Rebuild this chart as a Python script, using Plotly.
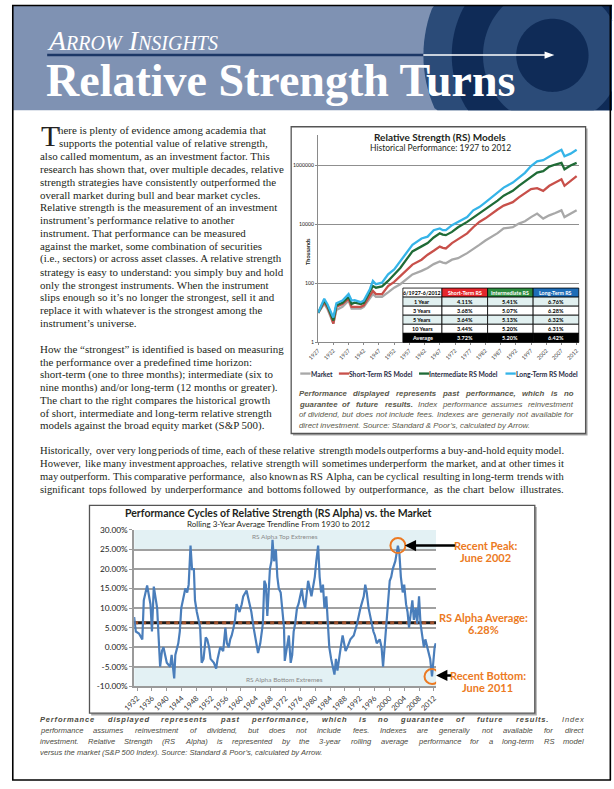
import math
import plotly.graph_objects as go

W, H = 614, 789
def X(p): return p / W
def Y(p): return 1 - p / H

# ---------------- Chart 1 data ----------------
rs_model_years = [1927, 1929, 1930, 1931, 1932, 1933, 1935, 1937, 1938, 1939,
                  1941, 1942, 1944, 1945, 1946, 1948, 1950, 1952, 1954, 1956,
                  1958, 1961, 1963, 1965, 1967, 1968, 1969, 1971, 1973, 1976,
                  1978, 1980, 1982, 1984, 1986, 1988, 1991, 1993, 1995, 1997,
                  1999, 2001, 2003, 2005, 2007, 2008, 2010, 2012]
market = [10, 20, 14, 8, 4.3, 12.6, 16, 26, 14, 14,
          14, 16, 33, 43, 35, 35, 49, 71, 93, 141,
          200, 263, 330, 447, 550, 500, 480, 630, 710, 1050,
          1410, 2000, 2820, 3800, 5000, 7240, 7940, 10500, 12600, 17400,
          23000, 15500, 20000, 24000, 29500, 17400, 22400, 29500]
short_term = [10, 23, 16, 9, 4.3, 16, 20, 30, 16, 16,
              16, 18, 40, 55, 43, 43, 81, 112, 174, 280,
              430, 630, 930, 1260, 1740, 1580, 1510, 2290, 3160, 4900,
              7900, 12000, 15800, 23000, 31600, 42700, 56000, 81000, 112000, 155000,
              166000, 135000, 200000, 251000, 331000, 200000, 295000, 427000]
intermediate = [10, 26, 18, 10, 5.5, 18, 22, 35, 20, 22,
                20, 22, 49, 81, 71, 79, 120, 200, 330, 630,
                1200, 1780, 2300, 3550, 4900, 4470, 4270, 5500, 7900, 12000,
                16600, 23000, 31600, 42700, 63000, 93000, 135000, 200000, 282000, 380000,
                562000, 630000, 890000, 1050000, 1200000, 724000, 980000, 1200000]
long_term = [10, 30, 20, 12, 7, 21, 26, 43, 26, 27,
             23, 26, 63, 120, 93, 105, 200, 295, 550, 1050,
             2000, 3300, 3800, 6300, 7200, 6300, 6300, 9300, 12000, 17400,
             29500, 38000, 55000, 81000, 120000, 174000, 257000, 380000, 550000, 930000,
             1350000, 1480000, 2000000, 2570000, 3300000, 2000000, 2450000, 3300000]
chart1_ticks = list(range(1927, 2013, 5))
chart1_yticks = [1, 100, 10000, 1000000]

table_header = ["6/1927-6/2012", "Short-Term RS", "Intermediate RS", "Long-Term RS"]
table_periods = ["1 Year", "3 Years", "5 Years", "10 Years", "Average"]
table_short = ["4.11%", "3.68%", "3.64%", "3.44%", "3.72%"]
table_inter = ["5.41%", "5.07%", "5.13%", "5.20%", "5.20%"]
table_long = ["6.76%", "6.28%", "6.32%", "6.31%", "6.42%"]

# ---------------- Chart 2 data ----------------
rs_years = [1931.2, 1931.65, 1932.5, 1933.4, 1933.8, 1934.7, 1935.6, 1936.0, 1936.5, 1937.4,
            1938.2, 1938.7, 1939.1, 1940.0, 1940.9, 1941.3, 1942.0, 1942.3, 1943.1, 1943.5,
            1943.9, 1944.6, 1945.0, 1945.5, 1945.9, 1946.4, 1946.8, 1947.3, 1947.6, 1948.1,
            1948.5, 1949.0, 1949.4, 1949.9, 1950.5, 1950.9, 1951.4, 1951.8, 1952.7, 1953.3,
            1953.7, 1954.4, 1955.2, 1955.8, 1956.2, 1956.7, 1957.1, 1957.5, 1958.0, 1958.4,
            1958.8, 1959.6, 1960.2, 1960.6, 1961.5, 1961.9, 1962.8, 1963.4, 1963.9, 1964.6,
            1965.2, 1965.9, 1966.3, 1966.7, 1967.1, 1967.4, 1967.8, 1968.2, 1968.5, 1968.9,
            1969.4, 1969.8, 1970.2, 1970.7, 1971.1, 1971.6, 1971.8, 1972.5, 1972.9, 1973.4,
            1973.8, 1974.2, 1974.6, 1975.1, 1975.5, 1976.4, 1976.8, 1977.3, 1978.1, 1979.0,
            1979.9, 1980.3, 1980.8, 1981.2, 1981.6, 1982.1, 1982.5, 1983.0, 1983.4, 1983.8,
            1984.3, 1984.7, 1985.2, 1985.6, 1986.0, 1986.9, 1987.4, 1987.8, 1988.2, 1988.7,
            1989.5, 1990.4, 1991.3, 1992.2, 1993.1, 1993.5, 1993.9, 1994.4, 1994.8, 1995.2,
            1995.7, 1996.1, 1996.6, 1997.4, 1997.9, 1998.3, 1998.8, 1999.2, 1999.6, 2000.1,
            2000.5, 2000.9, 2001.6, 2002.3, 2002.7, 2003.1, 2003.6, 2004.0, 2004.5, 2004.9,
            2005.3, 2005.8, 2006.2, 2006.6, 2007.1, 2007.5, 2008.0, 2008.4, 2008.8, 2009.3,
            2009.7, 2010.2, 2010.6, 2011.0, 2011.5, 2011.9, 2012.2, 2012.5]
rs_alpha = [7.7, 4, 3.5, 2, 12, 15.8, 11, 4, 15.5, 10,
            -5, -1, 0, -4, -5, -2, -8, -2, 1, 4,
            10, 13, 15, 14, 16, 26, 20, 20, 12, 9,
            7, 5, -4, -3, 2.5, 2, 0, -3, -4, -5.5,
            -3, 0, -1, 5, 1, 0, 2, 3, 5, 7,
            11, 9, 11, 13, 14.5, 13, 9, 5, 2, -1.5,
            1, 6, 17, 16, 8, 14, 20, 22, 27.5, 22,
            25, 18, 15, 14, 10, 5, -3.5, 0, 3, -4,
            -2, 4, 6, 10, 11, 15, 12, 10, 17, 13,
            18, 22, 26, 18, 14, 16, 10, 13, 6, 0,
            -3, -5, -7, -3, -6, 0, 3, 1, -1, 0,
            2, 3, 6, 10, 13, 16, 14, 10, 8, 6,
            4, 3, 1, 2, 0, -5, 1, 5, 12, 17,
            18, 20, 22, 26, 24, 18, 14, 16, 11, 9,
            5, 10, 12, 7, 10, 6, 13, 6, 3, 0,
            2, 0, -1, -3, -7.5, -3, 0, 1]
rs_average = 6.28
chart2_ticks = list(range(1932, 2013, 4))
chart2_yticks = [-10, -5, 0, 5, 10, 15, 20, 25, 30]
recent_peak = (2002.3, 26)
recent_bottom = (2011.5, -7.5)

SERIF = "Liberation Serif"
SANS = "Lato"
CAPF = "Liberation Sans"
TXT = "#231f20"
ORANGE = "#ec7a23"

# ---------- font metrics (Times / Arial compatible) ----------
TIMES = {' ': 250, ',': 250, '.': 250, ':': 278, ';': 278, '(': 333, ')': 333, '-': 333, '/': 278,
         '&': 778, '’': 333, '“': 444, '”': 444, "'": 180}
TIMES.update({c: 500 for c in "0123456789"})
TIMES.update(dict(zip("ABCDEFGHIJKLMNOPQRSTUVWXYZ",
                      [722, 667, 667, 722, 611, 556, 722, 722, 333, 389, 722, 611, 889, 722, 722, 556, 722,
                       667, 556, 611, 722, 722, 944, 722, 722, 611])))
TIMES.update(dict(zip("abcdefghijklmnopqrstuvwxyz",
                      [444, 500, 444, 500, 444, 333, 500, 500, 278, 278, 500, 278, 778, 500, 500, 500, 500,
                       333, 389, 278, 500, 500, 722, 500, 500, 444])))
ARIAL = {' ': 278, ',': 278, '.': 278, ':': 278, ';': 278, '(': 333, ')': 333, '-': 333, '/': 278,
         '&': 667, '’': 222, "'": 191}
ARIAL.update({c: 556 for c in "0123456789"})
ARIAL.update(dict(zip("ABCDEFGHIJKLMNOPQRSTUVWXYZ",
                      [667, 667, 722, 722, 667, 611, 778, 722, 278, 500, 667, 556, 833, 722, 778, 667, 778,
                       722, 667, 611, 722, 667, 944, 667, 667, 611])))
ARIAL.update(dict(zip("abcdefghijklmnopqrstuvwxyz",
                      [556, 556, 500, 556, 556, 278, 556, 556, 222, 222, 500, 222, 833, 556, 556, 556, 556,
                       333, 500, 278, 556, 500, 722, 500, 500, 500])))
ARIALB = dict(ARIAL)
ARIALB.update({':': 333, ';': 333, '&': 722, '’': 278})
ARIALB.update(dict(zip("abcdefghijklmnopqrstuvwxyz",
                       [556, 611, 556, 611, 556, 333, 611, 611, 278, 278, 556, 278, 889, 611, 611, 611, 611,
                        389, 556, 333, 611, 556, 778, 556, 556, 500])))
ARIALB.update({'A': 722, 'B': 722, 'J': 556, 'K': 722, 'L': 611})

def tw(s, table, size):
    # glyph advances are rounded to whole pixels by the renderer
    return sum(math.floor(table.get(c, 500) * size / 1000.0 + 0.5) for c in s)

def fit_size(s, table, target):
    best, err = 8, 1e9
    sz = 5.0
    while sz < 14:
        e = abs(tw(s, table, sz) - target)
        if e < err:
            best, err = sz, e
        sz += 0.05
    return round(best, 2)

fig = go.Figure()

# ---------- chart 1 traces ----------
c1_colors = ["#a8a8a8", "#c8504a", "#1f6b36", "#35b4e8"]
for vals, col in zip([market, short_term, intermediate, long_term], c1_colors):
    fig.add_trace(go.Scatter(x=rs_model_years, y=vals, mode="lines",
                             line=dict(color=col, width=2.3), xaxis="x", yaxis="y",
                             hoverinfo="skip"))

# ---------- chart 2 traces ----------
x2_range = [1931.2, 2012.6]
fig.add_trace(go.Scatter(x=x2_range, y=[rs_average, rs_average], mode="lines",
                         line=dict(color="#1a1a1a", width=3), xaxis="x2", yaxis="y2"))
fig.add_trace(go.Scatter(x=x2_range, y=[rs_average, rs_average], mode="lines",
                         line=dict(color="#a0522d", width=3, dash="4px,4px"), xaxis="x2", yaxis="y2"))
fig.add_trace(go.Scatter(x=rs_years, y=rs_alpha, mode="lines",
                         line=dict(color="#4a7ebb", width=2.2), xaxis="x2", yaxis="y2"))

shapes = []
annotations = []

def rect(x0, y0, x1, y1, fill=None, line=None, lw=0, layer="below"):
    shapes.append(dict(type="rect", xref="paper", yref="paper",
                       x0=X(x0), x1=X(x1), y0=Y(y1), y1=Y(y0),
                       fillcolor=fill or "rgba(0,0,0,0)",
                       line=dict(color=line or "rgba(0,0,0,0)", width=lw), layer=layer))

def hline(x0, x1, y, color, w, layer="above"):
    shapes.append(dict(type="line", xref="paper", yref="paper", x0=X(x0), x1=X(x1),
                       y0=Y(y), y1=Y(y), line=dict(color=color, width=w), layer=layer))

def text(x, y, s, size, color=TXT, family=SERIF, xanchor="left", yanchor="middle", angle=0):
    annotations.append(dict(xref="paper", yref="paper", x=X(x), y=Y(y), text=s,
                            showarrow=False, xanchor=xanchor, yanchor=yanchor,
                            textangle=angle, borderpad=0, borderwidth=0,
                            font=dict(family=family, size=size, color=color)))

def justify(segments, x0, x1, y, size, family, color, table, bold_table=None, italic=False,
            ls=0.0, fudge=1.0):
    """Place the words of a justified line so that it spans x0..x1."""
    words = [(w, b) for s, b in segments for w in s.split()]
    widths = [(tw(w, bold_table if b else table, size) + ls * len(w)) * fudge for w, b in words]
    n = len(words)
    gap = (x1 - x0 - sum(widths)) / max(n - 1, 1)
    xx = x0
    for i, ((w, b), wd) in enumerate(zip(words, widths)):
        s = w.replace("&", "&amp;")
        if ls:
            s = '<span style="letter-spacing:%.2fpx">%s</span>' % (ls, s)
        if b:
            s = "<b>" + s + "</b>"
        if italic:
            s = "<i>" + s + "</i>"
        if i == n - 1 and n > 1:
            text(x1, y, s, size, color=color, family=family, xanchor="right")
        else:
            text(xx, y, s, size, color=color, family=family)
        xx += wd + gap

# ---------- header ----------
HB = 106.7
rect(0, 0, W, HB, fill="#7f92b3")
cx, cy = 553, 51
for r, col in zip([132, 103, 71, 37], ["#2b4b78", "#0f2b57", "#2b4b78", "#0f2b57"]):
    pts = []
    for k in range(121):
        a = 2 * math.pi * k / 120
        px = min(max(cx + r * math.cos(a), 0), W)
        py = min(max(cy + r * math.sin(a), 0), HB)
        pts.append("%.5f,%.5f" % (X(px), Y(py)))
    shapes.append(dict(type="path", xref="paper", yref="paper",
                       path="M" + " L".join(pts) + " Z", fillcolor=col,
                       line=dict(width=0), layer="below"))
hline(36, 421, 50.7, "#1c3766", 2.4)
hline(421, 548, 50.7, "white", 1.6)
shapes.append(dict(type="path", xref="paper", yref="paper",
                   path="M%f,%f L%f,%f L%f,%f Z" % (X(545), Y(47), X(555), Y(50.7), X(545), Y(54.4)),
                   fillcolor="white", line=dict(width=0)))
text(36, 35.5, '<i>A<span style="font-size:20px">RROW</span> I<span style="font-size:20px">NSIGHTS</span></i>',
     28, color="white")
text(35, 76, "<b>Relative Strength Turns</b>", 46, color="white")

# ---------- body text ----------
para1 = ["here is plenty of evidence among academia that",
         "supports the potential value of relative strength,",
         "also called momentum, as an investment factor. This",
         "research has shown that, over multiple decades, relative",
         "strength strategies have consistently outperformed the",
         "overall market during bull and bear market cycles.",
         "Relative strength is the measurement of an investment",
         "instrument’s performance relative to another",
         "instrument. That performance can be measured",
         "against the market, some combination of securities",
         "(i.e., sectors) or across asset classes. A relative strength",
         "strategy is easy to understand: you simply buy and hold",
         "only the strongest instruments. When the instrument",
         "slips enough so it’s no longer the strongest, sell it and",
         "replace it with whatever is the strongest among the",
         "instrument’s universe."]
para2 = ["How the “strongest” is identified is based on measuring",
         "the performance over a predefined time horizon:",
         "short-term (one to three months); intermediate (six to",
         "nine months) and/or long-term (12 months or greater).",
         "The chart to the right compares the historical growth",
         "of short, intermediate and long-term relative strength",
         "models against the broad equity market (S&amp;P 500)."]
para3 = ["Historically, over very long periods of time, each of these relative strength models outperforms a buy-and-hold equity model.",
         "However, like many investment approaches, relative strength will sometimes underperform the market, and at other times it",
         "may outperform. This comparative performance, also known as RS Alpha, can be cyclical resulting in long-term trends with",
         "significant tops followed by underperformance and bottoms followed by outperformance, as the chart below illustrates."]
BS = fit_size(para1[3], TIMES, 244)
BS3 = round(BS * 0.965, 2)
text(29.5, 131.7, "T", 30)
for i, ln in enumerate(para1):
    x0 = 46.7 if i == 0 else (48.3 if i == 1 else 28.3)
    text(x0, 126.8 + 13.03 * i, ln, BS)
for i, ln in enumerate(para2):
    text(28.3, 348.5 + 12.95 * i, ln, BS)
for i, ln in enumerate(para3):
    justify([(ln, False)], 28.3, 565, 451.3 + 13.1 * i, BS3, SERIF, TXT, TIMES, fudge=1.035)

# ---------- chart 1 frame ----------
rect(287.5, 125, 589, 436, fill="#a8a8a8")
rect(285.7, 123.3, 587, 434, fill="white", line="#555555", lw=1.3)
text(438, 134, "<b>Relative Strength (RS) Models</b>", 10, family=SANS, xanchor="center")
text(438, 145, "Historical Performance: 1927 to 2012", 8.5, family=SANS, xanchor="center")
text(303, 250, "<b>Thousands</b>", 5.5, family=SANS, xanchor="center", angle=-90)

# table drawn from the table arrays
col_edges = [400, 440, 486.7, 533.3, 580]
row_top, row_bot = 286.7, 341.7
nrows = 1 + len(table_periods)
rh = (row_bot - row_top) / nrows
head_fill = ["white", "#e4262c", "#2b8a3e", "#1e6db7"]
head_font = ["black", "white", "white", "white"]
row_fill = ["#e1f0f0", "white", "#e1f0f0", "white", "black"]
columns = [table_periods, table_short, table_inter, table_long]
for c in range(4):
    xa, xb = col_edges[c], col_edges[c + 1]
    rect(xa, row_top, xb, row_top + rh, fill=head_fill[c], line="black", lw=0.8, layer="above")
    text((xa + xb) / 2, row_top + rh / 2, "<b>%s</b>" % table_header[c], 5.3,
         color=head_font[c], family=SANS, xanchor="center")
    for r in range(len(table_periods)):
        ya = row_top + rh * (r + 1)
        rect(xa, ya, xb, ya + rh, fill=row_fill[r], line="black", lw=0.8, layer="above")
        text((xa + xb) / 2, ya + rh / 2, "<b>%s</b>" % columns[c][r], 5.5,
             color=("white" if r == len(table_periods) - 1 else "black"), family=SANS, xanchor="center")

# legend
leg = [("Market", 295, "#a8a8a8"), ("Short-Term RS Model", 334.5, "#c8504a"),
       ("Intermediate RS Model", 416.5, "#1f6b36"), ("Long-Term RS Model", 505, "#35b4e8")]
for name, lx, col in leg:
    hline(lx, lx + 10.5, 373.3, col, 2.3)
    text(lx + 10.5, 373.3, "<b>" + name + "</b>", 6.7, color="#1f2a44", family=SANS)

CAP1C = "#5a584a"
cap1 = [[("Performance displayed represents past performance, which is no", True)],
        [("guarantee of future results.", True), ("Index performance assumes reinvestment", False)],
        [("of dividend, but does not include fees. Indexes are generally not available for", False)],
        [("direct investment. Source: Standard & Poor’s, calculated by Arrow.", False)]]
cap1_size = fit_size(cap1[3][0][0], ARIAL, 241.7 / 1.05)
for i, segs in enumerate(cap1):
    y = 393.3 + 10.9 * i
    if i < 3:
        justify(segs, 293.3, 575, y, cap1_size, CAPF, CAP1C, ARIAL, bold_table=ARIALB, italic=True,
                fudge=1.05)
    else:
        text(293.3, y, "<i>" + segs[0][0].replace("&", "&amp;") + "</i>", cap1_size, color=CAP1C, family=CAPF)

# ---------- chart 2 frame ----------
rect(81, 508.5, 537, 719.5, fill="#a8a8a8")
rect(79.3, 506.7, 535, 717.3, fill="white", line="#555555", lw=1.3)
shapes.append(dict(type="rect", xref="x2", yref="y2", x0=x2_range[0], x1=x2_range[1], y0=25, y1=30,
                   fillcolor="#e3f1f4", line=dict(width=0), layer="below"))
shapes.append(dict(type="rect", xref="x2", yref="y2", x0=x2_range[0], x1=x2_range[1], y0=-10, y1=-5,
                   fillcolor="#e3f1f4", line=dict(width=0), layer="below"))
text(273, 514.3, "<b>Performance Cycles of Relative Strength (RS Alpha) vs. the Market</b>", 10.5,
     family=SANS, xanchor="center")
text(273, 525.3, "Rolling 3-Year Average Trendline From 1930 to 2012", 8, family=SANS, xanchor="center")
text(279, 538.5, "RS Alpha Top Extremes", 6.5, color="#8a8a8a", family=SANS, xanchor="center")
text(279, 683.5, "RS Alpha Bottom Extremes", 6.5, color="#8a8a8a", family=SANS, xanchor="center")

for (xv, yv) in [recent_peak, recent_bottom]:
    shapes.append(dict(type="circle", xref="x2", yref="y2", xsizemode="pixel", ysizemode="pixel",
                       xanchor=xv, yanchor=yv, x0=-7.5, x1=7.5, y0=-7.5, y1=7.5,
                       line=dict(color=ORANGE, width=2), layer="above"))
for (tipx, tipy, tailx) in [(402, 547.5, 454), (434, 679, 451)]:
    annotations.append(dict(xref="paper", yref="paper", x=X(tipx), y=Y(tipy),
                            ax=tailx - tipx, ay=0, axref="pixel", ayref="pixel",
                            text="", showarrow=True,
                            arrowhead=2, arrowsize=0.9, arrowwidth=2.5, arrowcolor="black"))
text(485, 547.5, "<b>Recent Peak:</b>", 11, color=ORANGE, family=SANS, xanchor="center")
text(485, 559.5, "<b>June 2002</b>", 11, color=ORANGE, family=SANS, xanchor="center")
text(482, 620.5, "<b>RS Alpha Average:</b>", 11, color=ORANGE, family=SANS, xanchor="center")
text(482, 633, "<b>6.28%</b>", 11, color=ORANGE, family=SANS, xanchor="center")
text(487, 679, "<b>Recent Bottom:</b>", 11, color=ORANGE, family=SANS, xanchor="center")
text(487, 691, "<b>June 2011</b>", 11, color=ORANGE, family=SANS, xanchor="center")

CAP2C = "#4b4a3e"
cap2 = [[("Performance displayed represents past performance, which is no guarantee of future results.", True),
         ("Index", False)],
        [("performance assumes reinvestment of dividend, but does not include fees. Indexes are generally not available for direct", False)],
        [("investment. Relative Strength (RS Alpha) is represented by the 3-year rolling average performance for a long-term RS model", False)],
        [("versus the market (S&P 500 Index). Source: Standard & Poor’s, calculated by Arrow.", False)]]
cap2_size = fit_size(cap2[3][0][0], ARIAL, 288.7 / 1.035)
for i, segs in enumerate(cap2):
    y = 724 + 10.9 * i
    if i < 3:
        justify(segs, 28.3, 585, y, cap2_size, CAPF, CAP2C, ARIAL, bold_table=ARIALB, italic=True,
                ls=(0.8 if i == 0 else 0.0), fudge=1.045)
    else:
        text(28.3, y, "<i>" + segs[0][0].replace("&", "&amp;") + "</i>", cap2_size, color=CAP2C, family=CAPF)

# ---------- page border ----------
hline(0, W, 0.5, "black", 1.5)
shapes.append(dict(type="line", xref="paper", yref="paper", x0=X(0.8), x1=X(0.8), y0=Y(0), y1=Y(785),
                   line=dict(color="black", width=1.6)))
shapes.append(dict(type="line", xref="paper", yref="paper", x0=X(612.3), x1=X(612.3), y0=Y(0), y1=Y(785),
                   line=dict(color="black", width=1.6)))
hline(0, 613, 785, "black", 1.5)

fig.update_layout(
    width=W, height=H, margin=dict(l=0, r=0, t=0, b=0),
    paper_bgcolor="white", plot_bgcolor="rgba(0,0,0,0)", showlegend=False,
    shapes=shapes, annotations=annotations,
    xaxis=dict(domain=[X(313.3), X(580)], range=[1927, 2012.7], anchor="y",
               tickmode="array", tickvals=chart1_ticks, ticktext=[str(t) for t in chart1_ticks],
               tickangle=-45, tickfont=dict(family=SANS, size=5.5, color="#444"),
               showgrid=False, showline=True, linecolor="#8a8a8a", linewidth=1,
               ticks="outside", ticklen=2, tickcolor="#8a8a8a", zeroline=False),
    yaxis=dict(domain=[Y(341.7), Y(131.7)], type="log", range=[0, 7.02], anchor="x",
               tickmode="array", tickvals=chart1_yticks, ticktext=[str(t) for t in chart1_yticks],
               tickfont=dict(family=SANS, size=5.2, color="#222"),
               showgrid=True, gridcolor="#8f8f8f", gridwidth=1,
               showline=True, linecolor="#8a8a8a", linewidth=1,
               ticks="outside", ticklen=2, tickcolor="#8a8a8a", zeroline=False),
    xaxis2=dict(domain=[X(125), X(434)], range=x2_range, anchor="y2",
                tickmode="array", tickvals=chart2_ticks, ticktext=[str(t) for t in chart2_ticks],
                tickangle=-45, tickfont=dict(family=SANS, size=7.5, color="#333"),
                showgrid=False, showline=True, linecolor="#9a9a9a", linewidth=1.5,
                ticks="outside", ticklen=3, tickcolor="#9a9a9a", zeroline=False),
    yaxis2=dict(domain=[Y(690), Y(531.7)], range=[-10, 30], anchor="x2",
                tickmode="array", tickvals=chart2_yticks,
                ticktext=["%.2f%%" % v for v in chart2_yticks],
                tickfont=dict(family=SANS, size=8.3, color="#222"),
                showgrid=True, gridcolor="#a0a0a0", gridwidth=1.5,
                showline=True, linecolor="#9a9a9a", linewidth=1.5,
                ticks="outside", ticklen=3, tickcolor="#9a9a9a", zeroline=False),
)

fig.write_html("out.html", config={"displayModeBar": False},
               post_script="document.body.style.margin='0px';")
